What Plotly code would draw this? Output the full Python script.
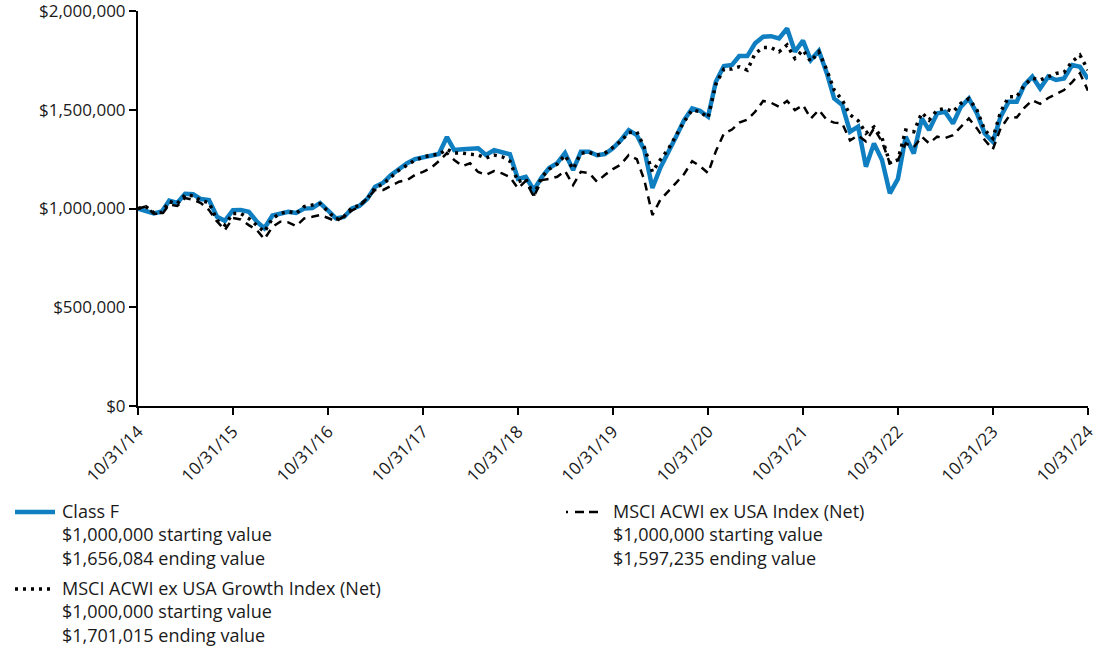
import pandas as pd
import plotly.graph_objects as go

# ---------------- data ----------------
dates = pd.date_range("2014-10-31", periods=121, freq=pd.offsets.MonthEnd())

class_f = [1000000, 990000, 975000, 985000, 1040000, 1028000, 1075000, 1072000, 1048000, 1043000,
           958000, 938000, 992000, 993000, 984000, 933000, 900000, 965000, 975000, 984000,
           978000, 1000000, 1002000, 1028000, 990000, 950000, 957000, 1000000, 1013000, 1050000,
           1110000, 1131000, 1170000, 1200000, 1230000, 1250000, 1258000, 1268000, 1276000, 1362000,
           1296000, 1300000, 1302000, 1305000, 1271000, 1296000, 1285000, 1275000, 1150000, 1160000,
           1094000, 1160000, 1205000, 1230000, 1281000, 1195000, 1288000, 1288000, 1270000, 1276000,
           1305000, 1345000, 1397000, 1372000, 1296000, 1104000, 1205000, 1281000, 1364000, 1448000,
           1507000, 1495000, 1465000, 1642000, 1722000, 1727000, 1772000, 1772000, 1837000, 1870000,
           1873000, 1862000, 1912000, 1794000, 1850000, 1752000, 1799000, 1684000, 1557000, 1524000,
           1389000, 1415000, 1212000, 1330000, 1246000, 1077000, 1150000, 1364000, 1279000, 1456000,
           1397000, 1482000, 1490000, 1431000, 1515000, 1557000, 1482000, 1380000, 1338000, 1465000,
           1541000, 1541000, 1625000, 1668000, 1608000, 1668000, 1651000, 1659000, 1727000, 1718000,
           1656084]

acwi_ex_usa = [1000000, 1010000, 975000, 970000, 1020000, 1013000, 1053000, 1045000, 1028000, 992000,
               935000, 891000, 952000, 945000, 916000, 891000, 845000, 907000, 933000, 930000,
               911000, 950000, 958000, 967000, 952000, 935000, 960000, 990000, 1010000, 1053000,
               1094000, 1094000, 1115000, 1136000, 1144000, 1170000, 1186000, 1205000, 1240000, 1281000,
               1246000, 1215000, 1229000, 1185000, 1170000, 1190000, 1178000, 1160000, 1102000, 1140000,
               1060000, 1144000, 1150000, 1161000, 1190000, 1119000, 1186000, 1180000, 1136000, 1170000,
               1200000, 1222000, 1271000, 1250000, 1144000, 967000, 1043000, 1085000, 1130000, 1175000,
               1240000, 1215000, 1180000, 1290000, 1380000, 1400000, 1435000, 1450000, 1490000, 1545000,
               1536000, 1515000, 1545000, 1499000, 1524000, 1456000, 1499000, 1448000, 1435000, 1431000,
               1345000, 1370000, 1340000, 1406000, 1338000, 1229000, 1246000, 1330000, 1310000, 1364000,
               1330000, 1364000, 1357000, 1372000, 1415000, 1456000, 1406000, 1347000, 1300000, 1406000,
               1465000, 1461000, 1510000, 1549000, 1530000, 1560000, 1580000, 1600000, 1640000, 1685000,
               1597235]

acwi_growth = [1000000, 1010000, 978000, 980000, 1035000, 1025000, 1068000, 1065000, 1040000, 1030000,
               940000, 916000, 975000, 975000, 950000, 916000, 882000, 950000, 975000, 985000,
               975000, 1010000, 1018000, 1025000, 985000, 945000, 960000, 1005000, 1015000, 1050000,
               1105000, 1125000, 1160000, 1195000, 1220000, 1245000, 1260000, 1270000, 1275000, 1300000,
               1281000, 1281000, 1275000, 1271000, 1256000, 1271000, 1262000, 1240000, 1136000, 1150000,
               1068000, 1160000, 1200000, 1225000, 1270000, 1200000, 1280000, 1285000, 1270000, 1280000,
               1310000, 1340000, 1385000, 1389000, 1310000, 1186000, 1246000, 1300000, 1370000, 1440000,
               1500000, 1490000, 1460000, 1630000, 1707000, 1707000, 1718000, 1701000, 1785000, 1815000,
               1815000, 1794000, 1828000, 1760000, 1803000, 1744000, 1794000, 1701000, 1600000, 1549000,
               1475000, 1445000, 1382000, 1413000, 1357000, 1232000, 1246000, 1397000, 1389000, 1485000,
               1448000, 1499000, 1507000, 1490000, 1532000, 1557000, 1499000, 1397000, 1355000, 1490000,
               1566000, 1566000, 1625000, 1660000, 1651000, 1668000, 1684000, 1690000, 1744000, 1777000,
               1701015]

x_tick_labels = ["10/31/14", "10/31/15", "10/31/16", "10/31/17", "10/31/18", "10/31/19",
                 "10/31/20", "10/31/21", "10/31/22", "10/31/23", "10/31/24"]
y_tick_values = [0, 500000, 1000000, 1500000, 2000000]
y_tick_labels = ["$0", "$500,000", "$1,000,000", "$1,500,000", "$2,000,000"]

legend_entries = [
    ("Class F", "$1,000,000 starting value", "$1,656,084 ending value"),
    ("MSCI ACWI ex USA Index (Net)", "$1,000,000 starting value", "$1,597,235 ending value"),
    ("MSCI ACWI ex USA Growth Index (Net)", "$1,000,000 starting value", "$1,701,015 ending value"),
]

# ---------------- styles ----------------
BLUE = "#0f7fc2"
FONT = "Open Sans"
TXT = "#1a1a1a"
W, H = 1100, 653
ML, MR, MT, MB = 138, 12, 11, 247
PW, PH = W - ML - MR, H - MT - MB

styles = [
    dict(color=BLUE, width=4.5, dash="solid"),
    dict(color="black", width=2.5, dash="8px,6px"),
    dict(color="black", width=3.5, dash="3px,5px"),
]
legend_dash = ["solid", "2px,7px,9px,5px,9px,20px", "3px,5px"]
series = [class_f, acwi_ex_usa, acwi_growth]


def px_x(px):
    return (px - ML) / PW


def px_y(py):
    return (H - MB - py) / PH


fig = go.Figure()
for idx in [0, 1, 2]:
    fig.add_trace(go.Scatter(x=dates, y=series[idx], mode="lines",
                             line=styles[idx], name=legend_entries[idx][0],
                             showlegend=False, hoverinfo="skip"))

# ---------------- custom legend ----------------
legend_pos = [(15, 512), (566, 512), (15, 589)]
shapes = []
annotations = []
for (lx, ly), st, ld, entry in zip(legend_pos, styles, legend_dash, legend_entries):
    shapes.append(dict(type="line", xref="paper", yref="paper",
                       x0=px_x(lx), x1=px_x(lx + 40), y0=px_y(ly), y1=px_y(ly),
                       line=dict(color=st["color"], width=st["width"], dash=ld)))
    annotations.append(dict(xref="paper", yref="paper", x=px_x(lx + 45), y=px_y(ly - 15.5),
                            xanchor="left", yanchor="top", align="left", showarrow=False,
                            text="<br>".join(entry),
                            font=dict(family=FONT, size=18, color=TXT)))

fig.update_layout(
    width=W, height=H, autosize=False,
    margin=dict(l=ML, r=MR, t=MT, b=MB, pad=0, autoexpand=False),
    paper_bgcolor="white", plot_bgcolor="white",
    font=dict(family=FONT, size=17, color=TXT),
    showlegend=False,
    shapes=shapes,
    annotations=annotations,
    xaxis=dict(type="date", range=[dates[0], dates[-1]], automargin=False,
               tickmode="array", tickvals=list(dates[::12]), ticktext=x_tick_labels,
               tickangle=-45, ticks="outside", ticklen=7, tickwidth=1.5, tickcolor="black",
               showline=True, linecolor="black", linewidth=2, showgrid=False, zeroline=False,
               ticklabeloverflow="allow",
               tickfont=dict(family=FONT, size=17, color=TXT)),
    yaxis=dict(range=[0, 2000400], automargin=False,
               tickmode="array", tickvals=y_tick_values, ticktext=y_tick_labels,
               ticks="outside", ticklen=7, tickwidth=1.5, tickcolor="black",
               showline=True, linecolor="black", linewidth=2, showgrid=False, zeroline=False,
               ticklabeloverflow="allow",
               tickfont=dict(family=FONT, size=17, color=TXT)),
)

fig.write_html("out.html")
